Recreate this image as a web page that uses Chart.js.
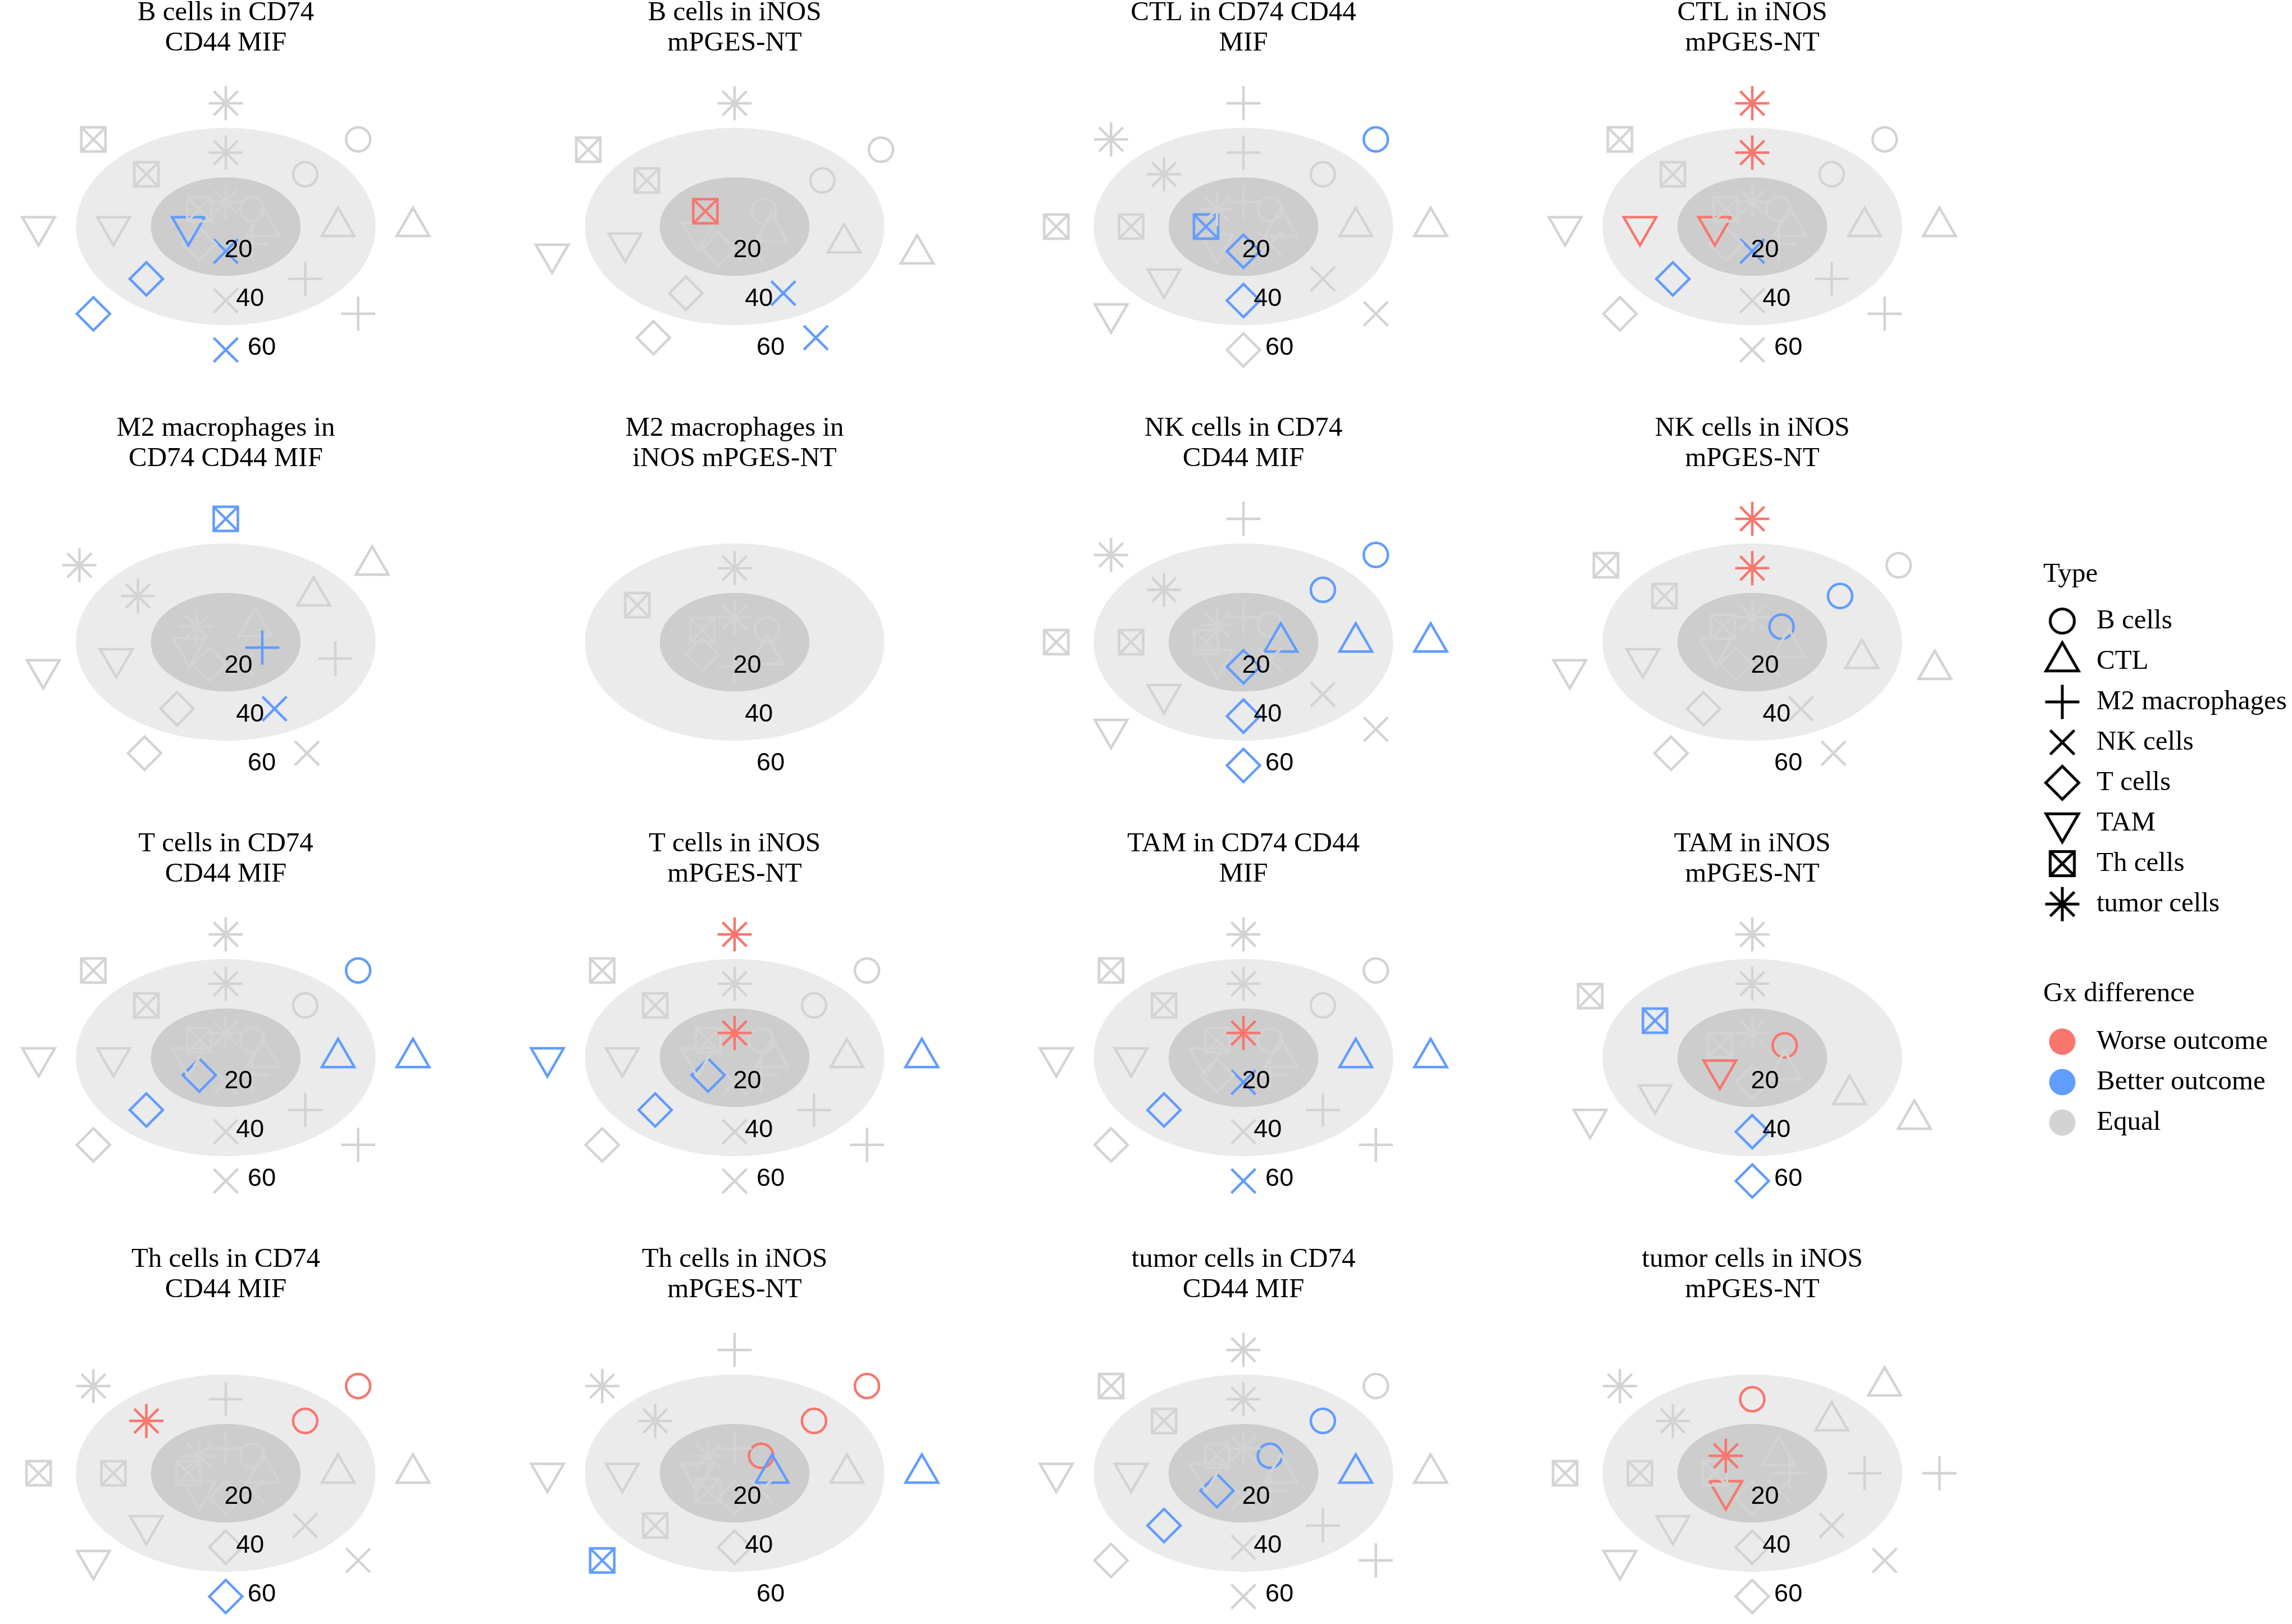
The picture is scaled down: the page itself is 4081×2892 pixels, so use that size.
<!DOCTYPE html>
<html>
<head>
<meta charset="utf-8">
<title>Gx difference by cell type and ligand-receptor pair</title>
<script src="https://cdn.jsdelivr.net/npm/chart.js@4.4.1/dist/chart.umd.min.js"></script>
<style>
  html, body { margin: 0; padding: 0; background: #ffffff; overflow: hidden; }
  #page { position: relative; width: 4081px; height: 2892px; }
  .panel { position: absolute; }
</style>
</head>
<body>
<div id="page"></div>
<script>
"use strict";

// ---- values ----
const cellTypes = ['B cells', 'CTL', 'M2 macrophages', 'NK cells', 'T cells', 'TAM', 'Th cells', 'tumor cells'];
const gxGroups = ['Worse outcome', 'Better outcome', 'Equal'];
const gxCodes = ['W', 'B', 'E'];
const radialValues = [20, 40, 60];
const radialTickLabels = ['20', '40', '60'];
const bandEdges = [30, 50];      // inner dark disc, outer light disc
const radialStart = 10;          // centre of each polar panel
const radialEnd = 70;

const panelTitles = [
    ['B cells in CD74', 'CD44 MIF'],
    ['B cells in iNOS', 'mPGES-NT'],
    ['CTL in CD74 CD44', 'MIF'],
    ['CTL in iNOS', 'mPGES-NT'],
    ['M2 macrophages in', 'CD74 CD44 MIF'],
    ['M2 macrophages in', 'iNOS mPGES-NT'],
    ['NK cells in CD74', 'CD44 MIF'],
    ['NK cells in iNOS', 'mPGES-NT'],
    ['T cells in CD74', 'CD44 MIF'],
    ['T cells in iNOS', 'mPGES-NT'],
    ['TAM in CD74 CD44', 'MIF'],
    ['TAM in iNOS', 'mPGES-NT'],
    ['Th cells in CD74', 'CD44 MIF'],
    ['Th cells in iNOS', 'mPGES-NT'],
    ['tumor cells in CD74', 'CD44 MIF'],
    ['tumor cells in iNOS', 'mPGES-NT']
];

// cell types shown in each panel, clockwise from the first spoke (index into cellTypes)
const panelOrder = [
    [0, 1, 2, 3, 4, 5, 6, 7],
    [0, 1, 3, 4, 5, 6, 7],
    [0, 1, 3, 4, 5, 6, 7, 2],
    [0, 1, 2, 3, 4, 5, 6, 7],
    [1, 2, 3, 4, 5, 7, 6],
    [0, 1, 2, 4, 6, 7],
    [0, 1, 3, 4, 5, 6, 7, 2],
    [0, 1, 3, 4, 5, 6, 7],
    [0, 1, 2, 3, 4, 5, 6, 7],
    [0, 1, 2, 3, 4, 5, 6, 7],
    [0, 1, 2, 3, 4, 5, 6, 7],
    [0, 1, 4, 5, 6, 7],
    [0, 1, 3, 4, 5, 6, 7, 2],
    [0, 1, 3, 4, 6, 5, 7, 2],
    [0, 1, 2, 3, 4, 5, 6, 7],
    [1, 2, 3, 4, 5, 6, 7, 0]
];

// Gx difference on each spoke at ring 20 / 40 / 60 (W worse, B better, E equal, - none)
const gxAt20 = ['EEEBEBEE', 'EEEEEW-', 'EEEBEBEE', 'EEEBEWEE', 'EBEEEE-', 'EEEEEE', 'EBEBEEEE', 'BEEEEEE',
                'EEEEBEEE', 'EEEEBEEW', 'EEEBEEEW', 'WEEWEE', 'EEEEEEEE', 'WBEEEEEE', 'BEEEBEEE', 'EEEEWEW-'];
const gxAt40 = ['EEEEBEEE', 'EEBEEE-', 'EEEBEEEE', 'EEEEBWEW', 'EEBEEE-', '----EE', 'BBEBEEE-', 'BEEEEEW',
                'EBEEBEEE', 'EEEEBEEE', 'EBEEBEEE', '-EBEBE', 'WEEEEEWE', 'WE-EEEE-', 'BBEEBEEE', 'EEEEEEEW'];
const gxAt60 = ['EEEBBEEE', 'EEBEEEE', 'BEEEEEEE', 'EEEEEEEW', 'E-EEEEB', '------', 'BBEBEEEE', 'EEEEEEW',
                'BBEEEEEE', 'EBEEEBEW', 'EBEBEEEE', '-EBEEE', 'WEEBEEE-', 'WB--BEEE', 'EEEEEEEE', 'EEEEEEE-'];

// ---- styling ----
const gxColors = { W: '#F8766D', B: '#619CFF', E: '#D3D3D3' };
const bandColors = ['#CDCDCD', '#EBEBEB'];
const markUnit = 21.5;      // ggplot point radius in px
const markStroke = 4.5;
// shape for each cell type (same order as cellTypes)
const typeMarks = [
    { style: 'circle', scale: 1, rotation: 0, legend: 'circle' },
    { style: 'triangle', scale: 1.555, rotation: 0, legend: 'triangle' },
    { style: 'cross', scale: 1.414, rotation: 0, legend: 'cross' },
    { style: 'crossRot', scale: 1.414, rotation: 0, legend: 'crossRot' },
    { style: 'rectRot', scale: 1.37, rotation: 0, legend: 'rectRot' },
    { style: 'triangle', scale: 1.555, rotation: 180, legend: 'triangleDown' },
    { style: 'boxX', scale: 1, rotation: 0, legend: 'boxX' },
    { style: 'star', scale: 1.414, rotation: 0, legend: 'star' }
];
const serif = "'Liberation Serif', 'Times New Roman', serif";
const sans = "'Liberation Sans', Arial, sans-serif";

// draw one ggplot-like shape on a plain canvas (used for the boxed x and the legend keys)
function drawMark(g, kind, x, y, unit) {
    const s2 = Math.SQRT2 * unit;
    g.beginPath();
    if (kind === 'circle') {
        g.arc(x, y, unit, 0, Math.PI * 2);
    } else if (kind === 'triangle' || kind === 'triangleDown') {
        const r = 1.555 * unit;
        const dir = kind === 'triangle' ? 1 : -1;
        g.moveTo(x, y - dir * r);
        g.lineTo(x + r * 0.866, y + dir * r / 2);
        g.lineTo(x - r * 0.866, y + dir * r / 2);
        g.closePath();
    } else if (kind === 'cross') {
        g.moveTo(x - s2, y); g.lineTo(x + s2, y);
        g.moveTo(x, y - s2); g.lineTo(x, y + s2);
    } else if (kind === 'crossRot') {
        g.moveTo(x - unit, y - unit); g.lineTo(x + unit, y + unit);
        g.moveTo(x - unit, y + unit); g.lineTo(x + unit, y - unit);
    } else if (kind === 'rectRot') {
        const d = 1.37 * unit;
        g.moveTo(x, y - d); g.lineTo(x + d, y); g.lineTo(x, y + d); g.lineTo(x - d, y);
        g.closePath();
    } else if (kind === 'boxX') {
        g.rect(x - unit, y - unit, 2 * unit, 2 * unit);
        g.moveTo(x - unit, y - unit); g.lineTo(x + unit, y + unit);
        g.moveTo(x - unit, y + unit); g.lineTo(x + unit, y - unit);
    } else if (kind === 'star') {
        g.moveTo(x - s2, y); g.lineTo(x + s2, y);
        g.moveTo(x, y - s2); g.lineTo(x, y + s2);
        g.moveTo(x - unit, y - unit); g.lineTo(x + unit, y + unit);
        g.moveTo(x - unit, y + unit); g.lineTo(x + unit, y - unit);
    } else if (kind === 'dot') {
        g.arc(x, y, unit + 2, 0, Math.PI * 2);
        g.fill();
        return;
    }
    g.stroke();
}

function markImage(kind, color, lineWidth, shiftX) {
    const c = document.createElement('canvas');
    c.width = 110;
    c.height = 110;
    const g = c.getContext('2d');
    g.strokeStyle = color;
    g.fillStyle = color;
    g.lineWidth = lineWidth;
    drawMark(g, kind, 55 + shiftX, 55, markUnit);
    return c;
}

// grey discs behind the points and the 20/40/60 labels on them
const tickSpokeDeg = 171;
const polarBackdrop = {
    id: 'polarBackdrop',
    beforeDatasetsDraw(chart) {
        const { ctx, scales: { x, y } } = chart;
        const cx = x.getPixelForValue(0);
        const cy = y.getPixelForValue(0);
        ctx.save();
        for (let i = bandEdges.length - 1; i >= 0; i--) {
            const reach = bandEdges[i] - radialStart;
            ctx.beginPath();
            ctx.ellipse(cx, cy, x.getPixelForValue(reach) - cx, cy - y.getPixelForValue(reach), 0, 0, Math.PI * 2);
            ctx.fillStyle = bandColors[i];
            ctx.fill();
        }
        ctx.restore();
    },
    afterDatasetsDraw(chart) {
        const { ctx, scales: { x, y } } = chart;
        const a = tickSpokeDeg * Math.PI / 180;
        ctx.save();
        ctx.fillStyle = '#000000';
        ctx.font = '45px ' + sans;
        ctx.textAlign = 'center';
        ctx.textBaseline = 'middle';
        radialValues.forEach(function (v, i) {
            const reach = v - radialStart;
            const px = x.getPixelForValue(reach * Math.sin(a)) + 12;
            const py = y.getPixelForValue(reach * Math.cos(a)) - 1;
            ctx.fillText(radialTickLabels[i], px, py);
        });
        ctx.restore();
    }
};

document.addEventListener('DOMContentLoaded', function () {
    const page = document.getElementById('page');
    const reach = radialEnd - radialStart;

    // Chart.js has no boxed-x style, so use a small canvas image per colour
    const boxImages = {};
    gxCodes.forEach(function (code) {
        boxImages[code] = markImage('boxX', gxColors[code], markStroke, 0);
    });

    panelTitles.forEach(function (title, p) {
        const col = p % 4;
        const row = Math.floor(p / 4);
        const holder = document.createElement('div');
        holder.className = 'panel';
        holder.style.left = (2 + 906 * col) + 'px';
        holder.style.top = (-9 + 740 * row) + 'px';
        const canvas = document.createElement('canvas');
        canvas.width = 800;
        canvas.height = 676;
        holder.appendChild(canvas);
        page.appendChild(holder);

        const order = panelOrder[p];
        const levels = [gxAt20[p], gxAt40[p], gxAt60[p]];

        // points go in data order (ring, then spoke) so overlaps stack like the original
        const pts = [], styles = [], radii = [], rots = [], colors = [];
        levels.forEach(function (codes, li) {
            order.forEach(function (typeIdx, k) {
                const code = codes[k];
                if (!gxColors[code]) return;
                const angle = (k + 1) * 2 * Math.PI / order.length;
                const r = radialValues[li] - radialStart;
                const mark = typeMarks[typeIdx];
                pts.push({ x: r * Math.sin(angle), y: r * Math.cos(angle) });
                styles.push(mark.style === 'boxX' ? boxImages[code] : mark.style);
                radii.push(markUnit * mark.scale);
                rots.push(mark.rotation);
                colors.push(gxColors[code]);
            });
        });

        new Chart(canvas, {
            type: 'scatter',
            data: {
                datasets: [{
                    label: 'Gx difference',
                    data: pts,
                    pointStyle: styles,
                    pointRadius: radii,
                    pointRotation: rots,
                    pointBorderColor: colors,
                    pointBackgroundColor: 'rgba(0,0,0,0)',
                    pointBorderWidth: markStroke,
                    showLine: false,
                    clip: false
                }]
            },
            options: {
                responsive: false,
                animation: false,
                events: [],
                layout: { padding: 0, autoPadding: false },
                scales: {
                    x: { type: 'linear', min: -reach, max: reach, display: false },
                    y: { type: 'linear', min: -reach, max: reach, display: false }
                },
                plugins: {
                    legend: { display: false },
                    tooltip: { enabled: false },
                    title: {
                        display: true,
                        text: title,
                        color: '#000000',
                        font: { family: serif, size: 49, weight: 'normal', lineHeight: 54 / 49 },
                        padding: { top: 5, bottom: 36 }
                    }
                }
            },
            plugins: [polarBackdrop]
        });
    });

    // legends: shape per cell type, then colour per Gx group
    function legendChart(left, top, height, titleText, items, titleGap) {
        const holder = document.createElement('div');
        holder.className = 'panel';
        holder.style.left = left + 'px';
        holder.style.top = top + 'px';
        const canvas = document.createElement('canvas');
        canvas.width = 1000;
        canvas.height = height;
        holder.appendChild(canvas);
        page.appendChild(holder);
        new Chart(canvas, {
            type: 'scatter',
            data: { datasets: [] },
            options: {
                responsive: false,
                animation: false,
                events: [],
                layout: { padding: 0 },
                scales: { x: { display: false }, y: { display: false } },
                plugins: {
                    tooltip: { enabled: false },
                    legend: {
                        display: true,
                        position: 'left',
                        align: 'start',
                        title: {
                            display: true,
                            text: titleText,
                            position: 'start',
                            color: '#000000',
                            font: { family: serif, size: 49, weight: 'normal', lineHeight: 1 },
                            padding: { top: 0, bottom: titleGap }
                        },
                        labels: {
                            usePointStyle: true,
                            pointStyleWidth: 47.5,
                            padding: 23,
                            color: '#000000',
                            font: { family: serif, size: 49, weight: 'normal', lineHeight: 1 },
                            generateLabels: function () { return items; }
                        }
                    }
                }
            }
        });
    }

    const typeItems = cellTypes.map(function (name, i) {
        return {
            text: name,
            pointStyle: markImage(typeMarks[i].legend, '#000000', 5, -12.75),
            fillStyle: 'rgba(0,0,0,0)',
            strokeStyle: 'rgba(0,0,0,0)',
            lineWidth: 0,
            hidden: false,
            datasetIndex: i
        };
    });
    const gxItems = gxGroups.map(function (name, i) {
        return {
            text: name,
            pointStyle: markImage('dot', gxColors[gxCodes[i]], 0, -12.75),
            fillStyle: 'rgba(0,0,0,0)',
            strokeStyle: 'rgba(0,0,0,0)',
            lineWidth: 0,
            hidden: false,
            datasetIndex: i
        };
    });

    legendChart(3638, 999, 700, 'Type', typeItems, 10.5);
    legendChart(3638, 1746, 400, 'Gx difference', gxItems, 12.5);
});
</script>
</body>
</html>
